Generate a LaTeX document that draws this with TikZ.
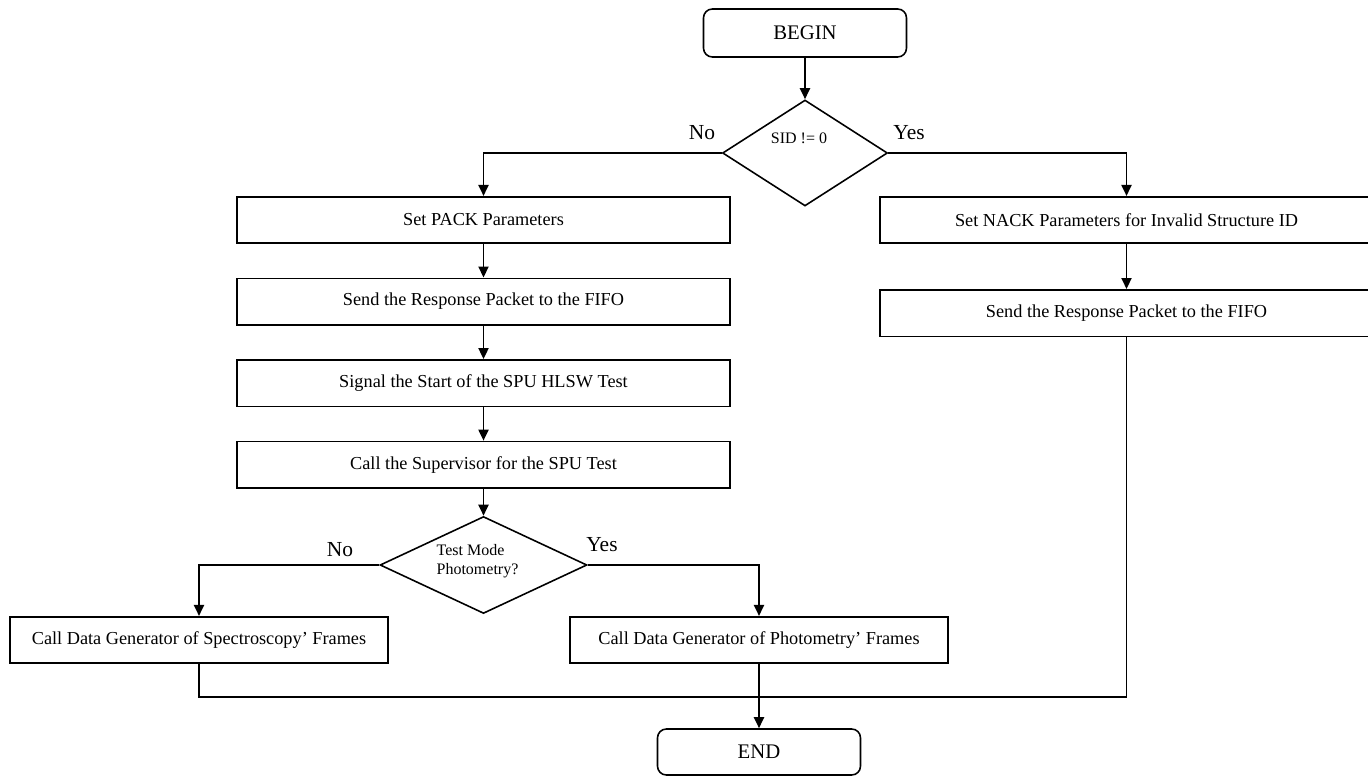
\documentclass[tikz,border=0pt]{standalone}
\usepackage{fontspec}
\setmainfont{Liberation Serif}
\usetikzlibrary{positioning, arrows.meta, shapes.geometric}

\begin{document}
\begin{tikzpicture}[
  x=0.02cm, y=-0.02cm,
  node distance=0.67cm,
  every node/.style={font=\fontsize{10.4}{12}\selectfont},
  term/.style={rectangle, draw, rounded corners=5pt, line width=0.9pt,
               minimum width=4.06cm, minimum height=0.96cm,
               font=\fontsize{11.8}{14}\selectfont},
  proc/.style={rectangle, draw, line width=0.9pt, minimum width=9.86cm,
               minimum height=0.93cm},
  gen/.style={proc, minimum width=7.56cm},
  dec/.style={diamond, draw, line width=0.9pt, inner sep=0pt},
  dectext/.style={font=\fontsize{9.1}{10.8}\selectfont, align=left},
  branch/.style={font=\fontsize{12.2}{14}\selectfont},
  arrow/.style={-{Triangle[length=2.2mm, width=2mm]}, line width=1.1pt},
  link/.style={line width=0.8pt},
]
  \useasboundingbox (0,0) rectangle (1368,776);

  \node[term] (begin) at (805,33) {BEGIN};
  \node[dec, minimum width=3.3cm, minimum height=2.12cm] (sid) at (805,153) {};
  \node[dectext] (sidtext) at (799,138) {SID != 0};
  \node[branch] (sidno) at (702,133) {No};
  \node[branch] (sidyes) at (909,133) {Yes};

  % left branch
  \node[proc] (pack) at (483.5,220) {Set PACK Parameters};
  \node[proc, below=of pack] (sendl) {Send the Response Packet to the FIFO};
  \node[proc, below=of sendl] (signal) {Signal the Start of the SPU HLSW Test};
  \node[proc, below=of signal] (superv) {Call the Supervisor for the SPU Test};

  \node[dec, minimum width=4.14cm, minimum height=1.94cm] (mode) at (483.5,565) {};
  \node[dectext] (modetext) at (477.5,561) {Test Mode\\Photometry?};
  \node[branch] (modeno) at (340,550) {No};
  \node[branch] (modeyes) at (602,545) {Yes};

  \node[gen] (spectro) at (199,640) {Call Data Generator of Spectroscopy' Frames};
  \node[gen] (photo) at (759,640) {Call Data Generator of Photometry' Frames};

  % right branch
  \node[proc] (nack) at (1126.5,220) {Set NACK Parameters for Invalid Structure ID};
  \node[proc, below=0.9cm of nack] (sendr) {Send the Response Packet to the FIFO};

  \node[term, minimum height=0.92cm] (end) at (759,752) {END};
  \coordinate[below=0.66cm of photo.south] (merge);

  \draw[arrow] (begin) -- (sid);
  \draw[arrow] (sid.west) -| (pack.north);
  \draw[arrow] (sid.east) -| (nack.north);
  \draw[arrow] (pack) -- (sendl);
  \draw[arrow] (sendl) -- (signal);
  \draw[arrow] (signal) -- (superv);
  \draw[arrow] (superv) -- (mode);
  \draw[arrow] (mode.west) -| (spectro.north);
  \draw[arrow] (mode.east) -| (photo.north);
  \draw[arrow] (nack) -- (sendr);
  \draw[link] (spectro.south) |- (merge);
  \draw[link] (sendr.south) |- (merge);
  \draw[arrow] (photo) -- (end);

\end{tikzpicture}
\end{document}
